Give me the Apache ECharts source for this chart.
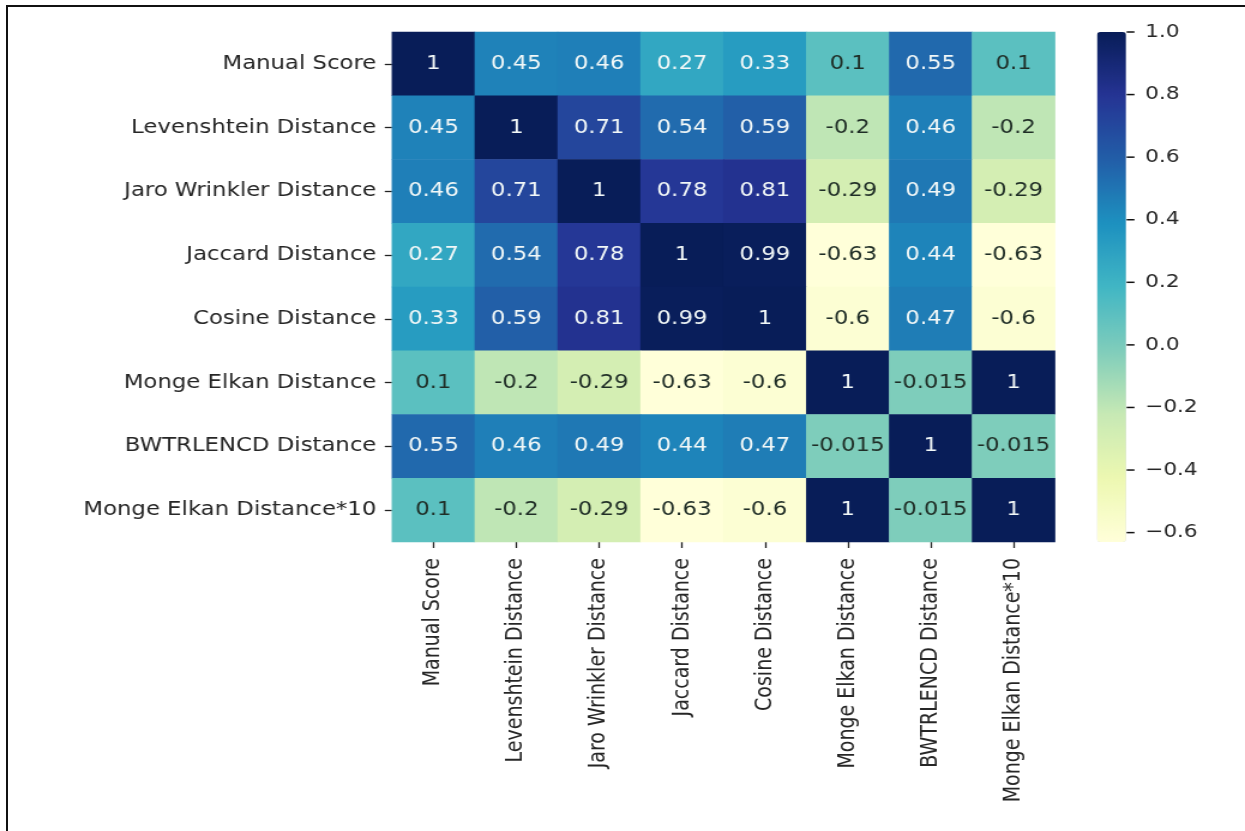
<!DOCTYPE html>
<html>
<head>
<meta charset="utf-8">
<script src="https://cdn.jsdelivr.net/npm/echarts@6/dist/echarts.min.js"></script>
<style>
  html, body { margin: 0; padding: 0; background: #ffffff; overflow: hidden; }
  #wrap { position: relative; width: 1245px; height: 831px; overflow: hidden; background: #fff; }
  /* the figure is laid out on a narrower canvas and widened horizontally */
  #chart { position: absolute; left: 0; top: 0; width: 1038px; height: 831px;
           transform: scaleX(1.19942); transform-origin: 0 0; }
  #frame { position: absolute; left: 6px; top: 5px; right: -10px; bottom: -10px;
           border-left: 2px solid #111; border-top: 2px solid #111; pointer-events: none; }
</style>
</head>
<body>
<div id="wrap">
  <div id="chart"></div>
  <div id="frame"></div>
</div>
<script>
// Variable names shown on both axes
const measures = [
  'Manual Score',
  'Levenshtein Distance',
  'Jaro Wrinkler Distance',
  'Jaccard Distance',
  'Cosine Distance',
  'Monge Elkan Distance',
  'BWTRLENCD Distance',
  'Monge Elkan Distance*10'
];

// Correlation matrix, one row per measure
const manualScoreRow   = [1, 0.45, 0.46, 0.27, 0.33, 0.1, 0.55, 0.1];
const levenshteinRow   = [0.45, 1, 0.71, 0.54, 0.59, -0.2, 0.46, -0.2];
const jaroWrinklerRow  = [0.46, 0.71, 1, 0.78, 0.81, -0.29, 0.49, -0.29];
const jaccardRow       = [0.27, 0.54, 0.78, 1, 0.99, -0.63, 0.44, -0.63];
const cosineRow        = [0.33, 0.59, 0.81, 0.99, 1, -0.6, 0.47, -0.6];
const mongeElkanRow    = [0.1, -0.2, -0.29, -0.63, -0.6, 1, -0.015, 1];
const bwtrlencdRow     = [0.55, 0.46, 0.49, 0.44, 0.47, -0.015, 1, -0.015];
const mongeElkan10Row  = [0.1, -0.2, -0.29, -0.63, -0.6, 1, -0.015, 1];

const matrixRows = [manualScoreRow, levenshteinRow, jaroWrinklerRow, jaccardRow,
                    cosineRow, mongeElkanRow, bwtrlencdRow, mongeElkan10Row];

// Colour bar range and tick labels
const colorMin = -0.63;
const colorMax = 1;
const colorbarTicks = [-0.6, -0.4, -0.2, 0.0, 0.2, 0.4, 0.6, 0.8, 1.0];

// YlGnBu colour ramp
const ylGnBu = ['#ffffd9', '#edf8b1', '#c7e9b4', '#7fcdbb', '#41b6c4',
                '#1d91c0', '#225ea8', '#253494', '#081d58'];

const cells = [];
matrixRows.forEach((row, r) => {
  row.forEach((v, c) => cells.push({
    value: [c, r, v],
    // dark text on the pale cells, light text on the dark ones
    label: { color: v < 0.2 ? '#1f2d26' : '#f2f8f8' }
  }));
});

const FONT = 'DejaVu Sans';
const chart = echarts.init(document.getElementById('chart'), null, { renderer: 'canvas' });

const HM_LEFT = 326.8, HM_TOP = 32, HM_W = 552.8, HM_H = 510;
const CB_LEFT = 914.6, CB_W = 24.2;

chart.setOption({
  backgroundColor: '#ffffff',
  animation: false,
  grid: [
    { left: HM_LEFT, top: HM_TOP, width: HM_W, height: HM_H, containLabel: false, outerBoundsMode: 'none' },
    { left: CB_LEFT, top: HM_TOP, width: CB_W, height: HM_H, containLabel: false, outerBoundsMode: 'none' }
  ],
  xAxis: [
    {
      type: 'category', gridIndex: 0, data: measures, position: 'bottom',
      axisLine: { show: false },
      axisTick: { show: true, length: 6, alignWithLabel: true, lineStyle: { color: '#222', width: 1.3 } },
      axisLabel: { rotate: 90, margin: 16, fontFamily: FONT, fontSize: 19, color: '#262626', interval: 0 },
      splitLine: { show: false }
    },
    {
      type: 'value', gridIndex: 1, show: false, min: 0, max: 1
    }
  ],
  yAxis: [
    {
      type: 'category', gridIndex: 0, data: measures, inverse: true,
      axisLine: { show: false },
      axisTick: { show: true, length: 6, alignWithLabel: true, lineStyle: { color: '#222', width: 1.3 } },
      axisLabel: { margin: 13, fontFamily: FONT, fontSize: 19, color: '#262626', interval: 0 },
      splitLine: { show: false }
    },
    {
      type: 'value', gridIndex: 1, min: colorMin, max: colorMax, position: 'right',
      axisLine: { show: false },
      splitLine: { show: false },
      axisTick: { show: false },
      axisLabel: {
        margin: 16, fontFamily: FONT, fontSize: 18, color: '#262626',
        customValues: colorbarTicks,
        formatter: v => v.toFixed(1).replace('-', '\u2212')
      }
    }
  ],
  visualMap: {
    type: 'continuous',
    seriesIndex: 0,
    min: colorMin, max: colorMax,
    calculable: false,
    orient: 'vertical',
    left: CB_LEFT, top: HM_TOP,
    itemWidth: CB_W, itemHeight: HM_H,
    padding: 0,
    text: null,
    showLabel: false,
    hoverLink: false,
    inRange: { color: ylGnBu }
  },
  series: [
    {
      type: 'heatmap',
      xAxisIndex: 0, yAxisIndex: 0,
      data: cells,
      itemStyle: { borderWidth: 0 },
      label: {
        show: true,
        fontFamily: FONT,
        fontSize: 19,
        formatter: p => String(p.value[2])
      }
    },
    {
      // short tick marks on the right edge of the colour bar
      type: 'custom',
      xAxisIndex: 1, yAxisIndex: 1,
      clip: false,
      silent: true,
      z: 10,
      data: colorbarTicks.map(v => [1, v]),
      renderItem: (params, api) => {
        const p = api.coord([1, api.value(1)]);
        return {
          type: 'line',
          shape: { x1: p[0] + 0.5, y1: p[1], x2: p[0] + 7, y2: p[1] },
          style: { stroke: '#111', lineWidth: 1.5 }
        };
      }
    }
  ]
});
</script>
</body>
</html>
